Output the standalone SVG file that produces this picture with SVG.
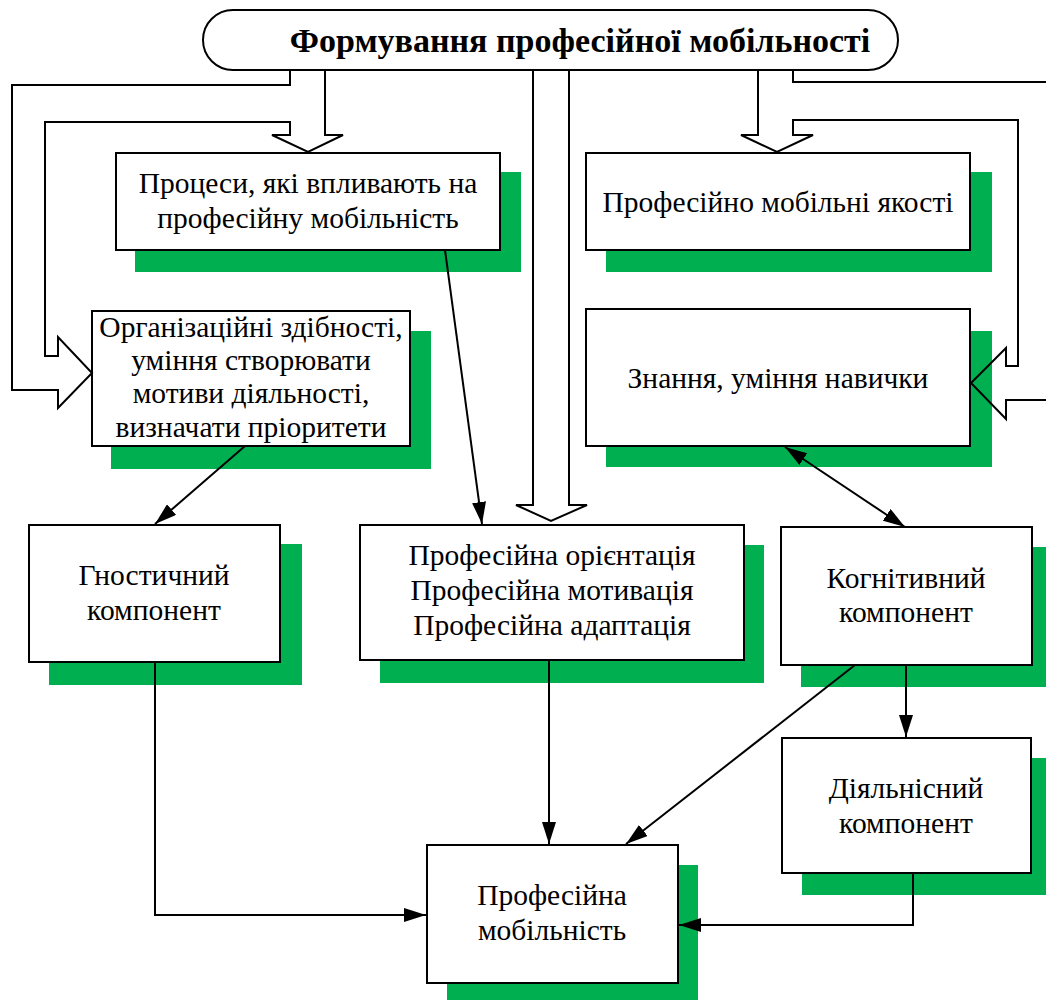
<svg xmlns="http://www.w3.org/2000/svg" width="1046" height="1000" viewBox="0 0 1046 1000">
<defs>
<style>
.sh{fill:#00B050;stroke:none}
.bx{fill:#fff;stroke:#000;stroke-width:2}
.t{font-family:"Liberation Serif","Times New Roman",serif;font-size:29.5px;fill:#000;text-anchor:middle}
.tt{font-family:"Liberation Serif","Times New Roman",serif;font-size:34px;font-weight:bold;fill:#000;text-anchor:middle}
.ln{fill:none;stroke:#000;stroke-width:2}
.ba{fill:none;stroke:#000;stroke-width:2;stroke-linejoin:miter}
</style>
<marker id="ah2" viewBox="0 0 22 14" refX="22" refY="7" markerWidth="22" markerHeight="14" markerUnits="userSpaceOnUse" orient="auto-start-reverse">
<path d="M0,0 L22,7 L0,14 z" fill="#000"/>
</marker>
</defs>
<rect width="1046" height="1000" fill="#fff"/>

<g id="title">
<rect class="bx" x="203" y="10" width="695" height="60" rx="30" ry="30"/>
<text class="tt" x="580" y="52">Формування професійної мобільності</text>
</g>

<g id="processes">
<rect class="sh" x="135" y="172" width="386" height="100"/>
<rect class="bx" x="116" y="153" width="384" height="97"/>
<text class="t" x="308" y="193">Процеси, які впливають на</text>
<text class="t" x="308" y="228">професійну мобільність</text>
</g>

<g id="qualities">
<rect class="sh" x="606" y="172" width="386" height="100"/>
<rect class="bx" x="586" y="153" width="384" height="97"/>
<text class="t" x="778" y="212">Професійно мобільні якості</text>
</g>

<g id="organizational">
<rect class="sh" x="111" y="331" width="320" height="138"/>
<rect class="bx" x="92" y="311" width="318" height="135"/>
<text class="t" x="251" y="337">Організаційні здібності,</text>
<text class="t" x="251" y="370">уміння створювати</text>
<text class="t" x="251" y="403">мотиви діяльності,</text>
<text class="t" x="251" y="437">визначати пріоритети</text>
</g>

<g id="knowledge">
<rect class="sh" x="606" y="331" width="386" height="136"/>
<rect class="bx" x="586" y="309" width="384" height="137"/>
<text class="t" x="778" y="388">Знання, уміння навички</text>
</g>

<g id="gnostic">
<rect class="sh" x="49" y="544" width="253" height="141"/>
<rect class="bx" x="29" y="525" width="251" height="137"/>
<text class="t" x="154" y="585">Гностичний</text>
<text class="t" x="154" y="620">компонент</text>
</g>

<g id="orientation">
<rect class="sh" x="380" y="545" width="384" height="138"/>
<rect class="bx" x="360" y="525" width="384" height="135"/>
<text class="t" x="552" y="565">Професійна орієнтація</text>
<text class="t" x="552" y="600">Професійна мотивація</text>
<text class="t" x="552" y="635">Професійна адаптація</text>
</g>

<g id="cognitive">
<rect class="sh" x="801" y="547" width="250" height="140"/>
<rect class="bx" x="781" y="527" width="251" height="138"/>
<text class="t" x="906" y="588">Когнітивний</text>
<text class="t" x="906" y="622">компонент</text>
</g>

<g id="activity">
<rect class="sh" x="802" y="758" width="250" height="137"/>
<rect class="bx" x="782" y="738" width="249" height="135"/>
<text class="t" x="906" y="798">Діяльнісний</text>
<text class="t" x="906" y="833">компонент</text>
</g>

<g id="mobility">
<rect class="sh" x="447" y="865" width="251" height="140"/>
<rect class="bx" x="427" y="845" width="251" height="138"/>
<text class="t" x="552" y="905">Професійна</text>
<text class="t" x="552" y="940">мобільність</text>
</g>

<g id="connectors">
<polyline class="ba" points="290,70 290,85 12,85 12,390 58,390 58,408 92,373 58,337 58,356 45,356 45,122 290,122 290,135 272,135 308,152 343,135 325,135 325,70"/>
<polyline class="ba" points="533,70 533,505 516,505 551,521 587,505 569,505 569,70"/>
<polyline class="ba" points="758,70 758,135 741,135 777,152 813,135 793,135 793,120 1018,120 1018,366 1006,366 1006,348 971,383 1006,419 1006,400 1050,400"/>
<polyline class="ba" points="793,70 793,82 1050,82"/>
<line class="ln" x1="445" y1="250" x2="482" y2="524" marker-end="url(#ah2)"/>
<line class="ln" x1="245" y1="446" x2="155" y2="524" marker-end="url(#ah2)"/>
<line class="ln" x1="785" y1="447" x2="905" y2="527" marker-start="url(#ah2)" marker-end="url(#ah2)"/>
<line class="ln" x1="906" y1="665" x2="906" y2="737" marker-end="url(#ah2)"/>
<line class="ln" x1="855" y1="665" x2="626" y2="844" marker-end="url(#ah2)"/>
<line class="ln" x1="549" y1="660" x2="549" y2="844" marker-end="url(#ah2)"/>
<polyline class="ln" points="155,662 155,915 426,915" marker-end="url(#ah2)"/>
<polyline class="ln" points="913,873 913,925 679,925" marker-end="url(#ah2)"/>
</g>
</svg>
